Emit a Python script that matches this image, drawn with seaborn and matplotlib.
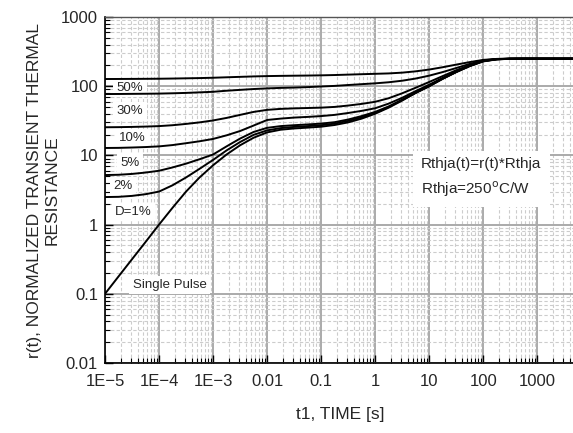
import numpy as np
import pandas as pd
import matplotlib
matplotlib.use("Agg")
import matplotlib.pyplot as plt
import seaborn as sns
from matplotlib.ticker import LogLocator, FixedLocator, FixedFormatter, NullFormatter

# ---- data ----
log_t = [-5, -4.75, -4.5, -4.25, -4, -3.75, -3.5, -3.25, -3, -2.75, -2.5, -2.25, -2,
         -1.75, -1.5, -1.25, -1, -0.75, -0.5, -0.25, 0, 0.25, 0.5, 0.75, 1, 1.25,
         1.5, 1.75, 2, 2.25, 2.5, 2.75, 3, 3.7]
time_s = [10 ** v for v in log_t]

r_50 = [127, 127.2, 127.5, 127.8, 128.2, 129, 130, 131, 132.5, 134.5, 136.5, 138.5, 140,
        141, 141.8, 142.5, 143.5, 145, 147, 149, 151, 153, 157, 164, 174, 188,
        205, 223, 240, 248, 250, 250, 250, 250]
r_30 = [77, 77.2, 77.5, 77.8, 78.2, 79, 80, 81.5, 83, 86, 88.5, 91, 93,
        94.5, 95.5, 97, 99, 101, 104, 107, 110, 114, 120, 129, 142, 160,
        183, 210, 236, 247, 250, 250, 250, 250]
r_10 = [25.5, 25.6, 25.8, 26.1, 26.5, 27.3, 28.5, 30, 32, 34.8, 38.5, 42.5, 45.5,
        47, 47.8, 48.4, 49, 50.2, 52.5, 55.5, 59.5, 67, 79, 95, 115, 140,
        170, 202, 233, 246, 249, 250, 250, 250]
r_5 = [12.8, 12.85, 13, 13.2, 13.5, 14.1, 15, 16, 17.3, 19.5, 22.5, 27, 32.5,
       34, 35.2, 36, 37, 38.5, 41, 44, 48, 56, 68, 85, 105, 132,
       163, 198, 232, 246, 249, 250, 250, 250]
r_2 = [5.2, 5.25, 5.4, 5.65, 6.0, 6.7, 7.6, 8.8, 10.3, 13.5, 17.5, 21.8, 25,
       26.5, 27.3, 28, 28.8, 30.2, 33, 37, 42.5, 51, 64, 81, 101, 129,
       161, 197, 231, 245, 249, 250, 250, 250]
r_1 = [2.5, 2.52, 2.6, 2.75, 3.0, 3.7, 4.8, 6.4, 8.6, 11.8, 15.6, 19.8, 23,
       24.8, 25.8, 26.5, 27.3, 28.8, 31.5, 35.5, 41, 50, 63, 80, 100, 128,
       160, 196, 230, 245, 249, 250, 250, 250]
r_single = [0.1, 0.178, 0.316, 0.56, 1.0, 1.75, 3.0, 4.8, 7.2, 10.3, 14, 18, 21.5,
            23.5, 24.5, 25.2, 26, 27.5, 30, 34, 40, 49, 62, 80, 100, 128,
            160, 195, 228, 244, 249, 250, 250, 250]

series_names = ["50%", "30%", "10%", "5%", "2%", "D=1%", "Single Pulse"]
series_vals = [r_50, r_30, r_10, r_5, r_2, r_1, r_single]

x_ticks = [1e-5, 1e-4, 1e-3, 1e-2, 1e-1, 1, 10, 100, 1000]
x_ticklabels = ["1E\u22125", "1E\u22124", "1E\u22123", "0.01", "0.1", "1", "10", "100", "1000"]
y_ticks = [0.01, 0.1, 1, 10, 100, 1000]
y_ticklabels = ["0.01", "0.1", "1", "10", "100", "1000"]

# label anchors (x in log10 seconds, y value)
label_pos = {
    "50%": (-4.537, 94.2),
    "30%": (-4.537, 43.8),
    "10%": (-4.50, 17.8),
    "5%": (-4.53, 7.76),
    "2%": (-4.667, 3.61),
    "D=1%": (-4.472, 1.52),
    "Single Pulse": (-3.806, 0.134),
}

rows = []
for name, vals in zip(series_names, series_vals):
    for t, v in zip(time_s, vals):
        rows.append({"t": t, "r": v, "series": name})
df = pd.DataFrame(rows)

sns.set_style("white")
plt.rcParams["font.family"] = ["Liberation Sans", "DejaVu Sans"]

fig = plt.figure(figsize=(5.73, 4.33), dpi=100)
ax = fig.add_axes([105 / 573, 1 - 363 / 433, (575 - 105) / 573, (363 - 17) / 433])

sns.lineplot(data=df, x="t", y="r", hue="series", units="series", estimator=None,
             palette=["black"] * len(series_names), linewidth=1.4, legend=False,
             ax=ax, sort=False, zorder=5)

ax.set_xscale("log")
ax.set_yscale("log")
ax.set_xlim(1e-5, 5000)
ax.set_ylim(0.01, 1000)

ax.xaxis.set_major_locator(FixedLocator(x_ticks))
ax.xaxis.set_major_formatter(FixedFormatter(x_ticklabels))
ax.yaxis.set_major_locator(FixedLocator(y_ticks))
ax.yaxis.set_major_formatter(FixedFormatter(y_ticklabels))
ax.xaxis.set_minor_locator(LogLocator(base=10, subs=np.arange(2, 10), numticks=100))
ax.yaxis.set_minor_locator(LogLocator(base=10, subs=np.arange(2, 10), numticks=100))
ax.xaxis.set_minor_formatter(NullFormatter())
ax.yaxis.set_minor_formatter(NullFormatter())

ax.grid(True, which="major", color="#aaaaaa", linewidth=1.4, linestyle="-", zorder=0)
ax.grid(True, which="minor", color="#cccccc", linewidth=0.8, linestyle=(0, (3, 2)), zorder=0)
ax.set_axisbelow(True)

ax.tick_params(axis="both", which="major", direction="in", length=6, width=1.0,
               color="black", labelsize=12)
ax.tick_params(axis="x", which="major", pad=8)
ax.tick_params(axis="y", which="major", pad=5)
ax.tick_params(axis="both", which="minor", direction="in", length=3.5, width=0.8,
               color="black")
ax.tick_params(axis="x", which="both", bottom=True, top=False)
ax.tick_params(axis="y", which="both", left=True, right=False)

for side in ["left", "bottom"]:
    ax.spines[side].set_color("black")
    ax.spines[side].set_linewidth(1.2)
ax.spines["top"].set_color("#555555")
ax.spines["top"].set_linewidth(1.0)
ax.spines["right"].set_visible(False)

ax.set_xlabel("t1, TIME [s]", fontsize=12.5, labelpad=13)
ax.set_ylabel("r(t), NORMALIZED TRANSIENT THERMAL\nRESISTANCE", fontsize=12.5,
              labelpad=1, linespacing=1.25)

for name in series_names:
    lx, ly = label_pos[name]
    ax.text(10 ** lx, ly, name, fontsize=9.5, ha="center", va="center", zorder=3,
            bbox=dict(facecolor="white", edgecolor="none", pad=2.5))

ax.text(10 ** ((421 - 105) / 54 - 5), 10 ** (3 - (178 - 17) / 69.2),
        "Rthja(t)=r(t)*Rthja\nRthja=250$^\\mathrm{o}$C/W",
        fontsize=11, ha="left", va="center", linespacing=1.55, zorder=3,
        bbox=dict(facecolor="white", edgecolor="none", pad=6))

fig.savefig("out.png", dpi=100)
